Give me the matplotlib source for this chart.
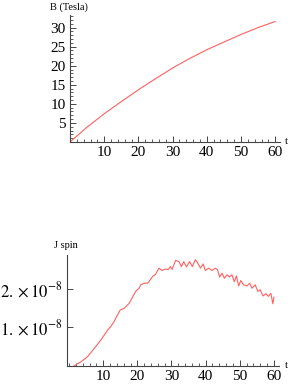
import matplotlib
matplotlib.use("Agg")
import matplotlib.pyplot as plt
from matplotlib.ticker import MultipleLocator, FixedLocator

plt.rcParams["font.family"] = ["Liberation Serif", "DejaVu Serif"]
plt.rcParams["mathtext.fontset"] = "stix"

LINE_RED = "#ff6060"
AXIS_GRAY = "#444444"

# magnetic field B (Tesla) versus t
b_t = [0, 5, 10, 15, 20, 25, 30, 35, 40, 45, 50, 55, 60]
b_val = [0.0, 3.9, 7.4, 10.6, 13.7, 16.6, 19.4, 21.9, 24.2, 26.2, 28.2, 30.0, 31.6]

# spin current J (units of 1e-8) versus t
j_t = [1.4, 3.5, 5.4, 7.4, 9.3, 11.3, 12.2, 13.2, 13.7, 15.0, 16.1, 17.6, 19.5,
       20.5, 21.0, 22.0, 22.9, 23.4, 24.4, 25.4, 26.3, 27.3, 28.3, 29.0, 29.7,
       30.2, 31.2, 32.2, 32.9, 33.6, 34.4, 35.3, 36.1, 37.0, 37.7, 38.5, 39.3,
       39.9, 40.9, 41.9, 42.9, 43.5, 44.1, 44.8, 45.5, 46.3, 47.0, 47.7, 48.4,
       49.0, 49.7, 50.3, 51.1, 52.1, 52.9, 53.6, 54.5, 55.3, 56.0, 56.8, 57.7,
       58.4, 59.1, 59.7, 60.0]
j_val = [0.0, 0.11, 0.24, 0.46, 0.67, 0.93, 1.02, 1.15, 1.24, 1.45, 1.49, 1.62, 1.93,
         2.01, 2.10, 2.14, 2.14, 2.18, 2.31, 2.38, 2.53, 2.47, 2.51, 2.49, 2.57,
         2.50, 2.73, 2.70, 2.57, 2.70, 2.56, 2.70, 2.57, 2.75, 2.66, 2.53, 2.64,
         2.47, 2.53, 2.47, 2.53, 2.49, 2.30, 2.40, 2.27, 2.36, 2.30, 2.36, 2.18,
         2.33, 2.07, 2.21, 2.10, 2.07, 2.14, 2.01, 2.10, 1.93, 1.97, 1.81, 1.87,
         1.80, 1.88, 1.61, 1.78]

x_ticks = [10, 20, 30, 40, 50, 60]
b_ticks = [5, 10, 15, 20, 25, 30]
j_ticks = [1, 2]
j_tick_labels = [r"$1.\times10^{-8}$", r"$2.\times10^{-8}$"]


def style_axes(ax):
    for spine in ["top", "right"]:
        ax.spines[spine].set_visible(False)
    for spine in ["left", "bottom"]:
        ax.spines[spine].set_color(AXIS_GRAY)
        ax.spines[spine].set_linewidth(0.8)
    ax.tick_params(which="major", direction="in", length=4, width=0.7,
                   color=AXIS_GRAY, labelsize=11, pad=3)
    ax.tick_params(which="minor", direction="in", length=2, width=0.6,
                   color=AXIS_GRAY)
    ax.xaxis.set_major_locator(FixedLocator(x_ticks))
    ax.xaxis.set_minor_locator(MultipleLocator(2))


fig = plt.figure(figsize=(2.91, 3.88), dpi=100)

# top panel: B(t)
ax1 = fig.add_axes([70 / 291, 246 / 388, 210 / 291, 127 / 388])
style_axes(ax1)
ax1.plot(b_t, b_val, color=LINE_RED, linewidth=0.8)
ax1.set_xlim(0, 61.4)
ax1.set_ylim(0, 33.3)
ax1.yaxis.set_major_locator(FixedLocator(b_ticks))
ax1.yaxis.set_minor_locator(MultipleLocator(1))
fig.text(69 / 291, 1 - 7 / 388, "B (Tesla)", fontsize=7.5, ha="center", va="center")
fig.text(286 / 291, 1 - 141 / 388, "t", fontsize=7.5, ha="center", va="center")

# bottom panel: J spin(t)
ax2 = fig.add_axes([66.7 / 291, 22 / 388, 212.3 / 291, 111 / 388])
style_axes(ax2)
ax2.plot(j_t, j_val, color=LINE_RED, linewidth=0.8)
ax2.set_xlim(-0.7, 61.5)
ax2.set_ylim(0, 2.87)
ax2.yaxis.set_major_locator(FixedLocator(j_ticks))
ax2.set_yticklabels(j_tick_labels)
ax2.tick_params(axis="y", labelsize=12)
ax2.yaxis.set_minor_locator(FixedLocator([]))
fig.text(66 / 291, 1 - 245 / 388, "J spin", fontsize=7.5, ha="center", va="center")
fig.text(286 / 291, 1 - 365 / 388, "t", fontsize=7.5, ha="center", va="center")

fig.savefig("out.png", dpi=100, facecolor="white")
